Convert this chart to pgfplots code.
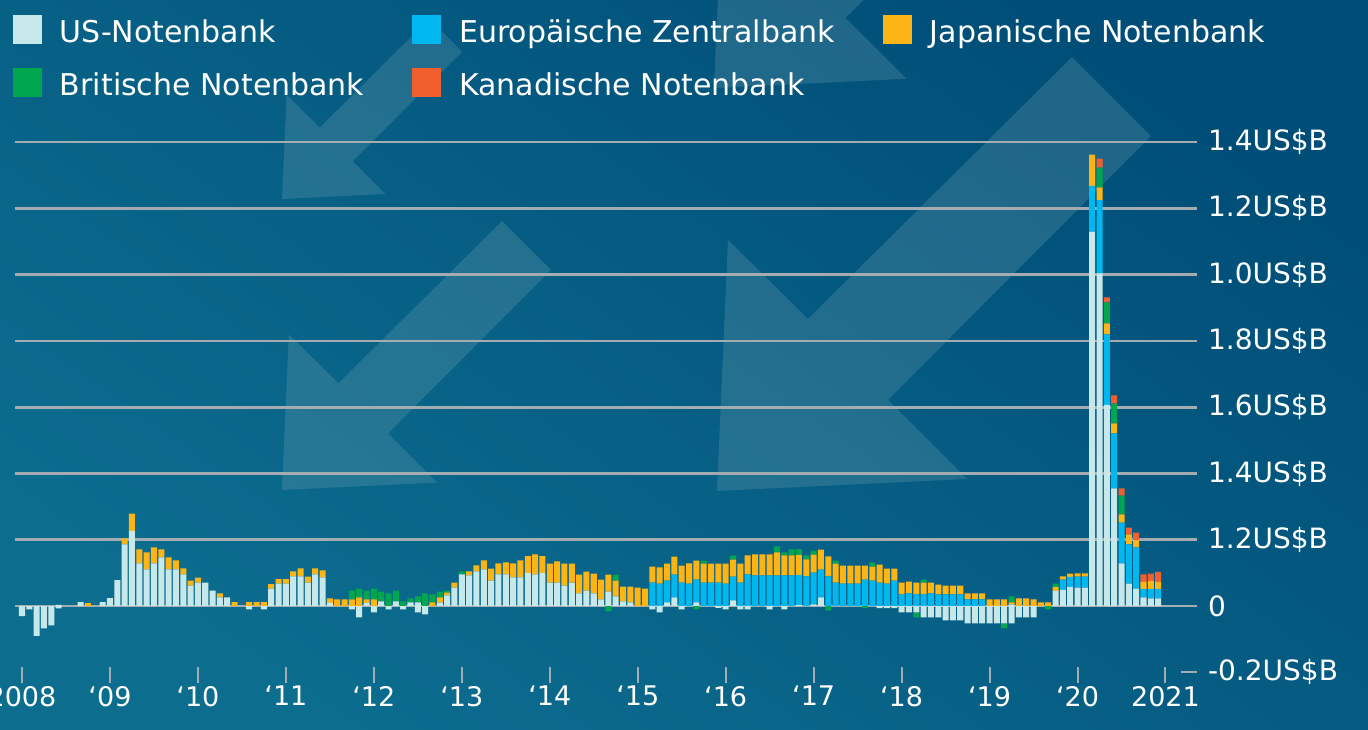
\documentclass[border=0pt]{standalone}
\usepackage{pgfplots}
\pgfplotsset{compat=1.18}
\usepackage{pgfplotstable}
\usepackage{fontspec}
\setmainfont{DejaVu Sans}
\definecolor{usc}{HTML}{C7E8EB}
\definecolor{ecbc}{HTML}{00B7EF}
\definecolor{jpc}{HTML}{FDB415}
\definecolor{boec}{HTML}{00A650}
\definecolor{bocc}{HTML}{F15F2E}
\definecolor{gridc}{HTML}{A3ACB0}
\definecolor{bgtop}{HTML}{004E78}
\definecolor{bgbot}{HTML}{0C6D8F}
\definecolor{arrowc}{HTML}{8CB4BE}

\pgfplotstableread{
m us ecb jp boe boc usn boen
0 0 0 0 0 0 -0.030 0
1 0 0 0 0 0 -0.010 0
2 0 0 0 0 0 -0.090 0
3 0 0 0 0 0 -0.067 0
4 0 0 0 0 0 -0.058 0
5 0.004 0 0 0 0 -0.007 0
6 0 0 0 0 0 0 0
7 0 0 0 0 0 0 0
8 0.012 0 0 0 0 0 0
9 0 0 0.009 0 0 0 0
10 0 0 0 0 0 0 0
11 0.012 0 0 0 0 0 0
12 0.024 0 0 0 0 0 0
13 0.078 0 0 0 0 0 0
14 0.186 0 0.018 0 0 0 0
15 0.227 0 0.052 0 0 0 0
16 0.129 0 0.042 0 0 0 0
17 0.111 0 0.051 0 0 0 0
18 0.129 0 0.048 0 0 0 0
19 0.147 0 0.024 0 0 0 0
20 0.111 0 0.036 0 0 0 0
21 0.111 0 0.027 0 0 0 0
22 0.096 0 0.018 0 0 0 0
23 0.062 0 0.015 0 0 0 0
24 0.071 0 0.015 0 0 0 0
25 0.071 0 0 0 0 0 0
26 0.047 0 0 0 0 0 0
27 0.026 0 0.012 0 0 0 0
28 0.026 0 0 0 0 0 0
29 0 0 0.012 0 0 0 0
30 0 0 0 0 0 0 0
31 0 0 0.012 0 0 -0.010 0
32 0 0 0.012 0 0 0 0
33 0 0 0.012 0 0 -0.010 0
34 0.053 0 0.013 0 0 0 0
35 0.068 0 0.013 0 0 0 0
36 0.068 0 0.013 0 0 0 0
37 0.090 0 0.015 0 0 0 0
38 0.090 0 0.024 0 0 0 0
39 0.071 0 0.018 0 0 0 0
40 0.096 0 0.018 0 0 0 0
41 0.087 0 0.021 0 0 0 0
42 0.010 0 0.013 0 0 0 0
43 0 0 0.020 0 0 0 0
44 0 0 0.020 0 0 0 0
45 0 0 0.020 0.027 0 -0.010 0
46 0 0 0.026 0.027 0 -0.034 0
47 0.010 0 0.010 0.027 0 0 0
48 0 0 0.020 0.033 0 -0.019 0
49 0.014 0 0 0.030 0 0 0
50 0 0 0 0.038 0 -0.010 0
51 0.014 0 0 0.033 0 0 0
52 0 0 0 0.014 0 -0.010 0
53 0.011 0 0 0.012 0 0 0
54 0.011 0 0 0.018 0 -0.019 0
55 0 0 0 0.038 0 -0.025 0
56 0 0 0.011 0.024 0 0 0
57 0.011 0 0.015 0.018 0 0 0
58 0.032 0 0.009 0.006 0 0 0
59 0.056 0 0.015 0 0 0 0
60 0.096 0 0 0.009 0 0 0
61 0.093 0 0.012 0 0 0 0
62 0.105 0 0.018 0 0 0 0
63 0.111 0 0.027 0 0 0 0
64 0.077 0 0.036 0 0 0 0
65 0.096 0 0.033 0 0 0 0
66 0.096 0 0.036 0 0 0 0
67 0.087 0 0.042 0 0 0 0
68 0.087 0 0.051 0 0 0 0
69 0.100 0 0.051 0 0 0 0
70 0.096 0 0.060 0 0 0 0
71 0.100 0 0.051 0 0 0 0
72 0.071 0 0.057 0 0 0 0
73 0.071 0 0.064 0 0 0 0
74 0.062 0 0.066 0 0 0 0
75 0.071 0 0.057 0 0 0 0
76 0.038 0 0.057 0 0 0 0
77 0.047 0 0.057 0 0 0 0
78 0.038 0 0.060 0 0 0 0
79 0.020 0 0.060 0 0 0 0
80 0.044 0 0.051 0 0 0 -0.016
81 0.029 0 0.048 0.018 0 0 0
82 0.014 0 0.045 0 0 0 0
83 0.011 0 0.048 0 0 0 0
84 0 0 0.056 0 0 0 0
85 0 0 0.053 0 0 0 0
86 0 0.071 0.048 0 0 -0.010 0
87 0 0.068 0.049 0 0 -0.019 0
88 0.011 0.066 0.051 0 0 0 0
89 0.026 0.069 0.054 0 0 0 0
90 0 0.071 0.051 0 0 -0.010 0
91 0 0.068 0.061 0 0 0 0
92 0.011 0.069 0.057 0 0 0 -0.010
93 0 0.071 0.057 0.009 0 0 0
94 0 0.071 0.057 0 0 0 0
95 0 0.071 0.057 0 0 -0.005 0
96 0 0.068 0.060 0 0 -0.010 0
97 0.017 0.072 0.051 0.012 0 0 0
98 0 0.071 0.057 0 0 -0.010 0
99 0 0.096 0.057 0 0 -0.010 0
100 0 0.093 0.063 0 0 0 0
101 0 0.093 0.063 0 0 0 0
102 0 0.093 0.063 0 0 -0.010 0
103 0 0.093 0.069 0.018 0 0 0
104 0 0.093 0.060 0.009 0 -0.010 0
105 0 0.093 0.060 0.018 0 0 0
106 0.004 0.090 0.060 0.018 0 0 0
107 0 0.090 0.051 0.012 0 0 0
108 0.005 0.096 0.054 0.012 0 0 0
109 0.026 0.084 0.060 0 0 0 0
110 0 0.090 0.060 0 0 0 -0.014
111 0 0.071 0.057 0.009 0 0 0
112 0 0.068 0.054 0 0 0 0
113 0 0.068 0.054 0 0 0 0
114 0 0.068 0.054 0 0 0 0
115 0 0.080 0.042 0 0 0 -0.006
116 0 0.077 0.042 0.012 0 0 0
117 0 0.071 0.054 0 0 -0.006 0
118 0 0.068 0.045 0 0 -0.006 0
119 0 0.077 0.036 0 0 -0.006 0
120 0 0.035 0.036 0 0 -0.019 0
121 0 0.038 0.036 0 0 -0.019 0
122 0 0.035 0.036 0 0 -0.019 -0.015
123 0 0.035 0.036 0.009 0 -0.034 0
124 0 0.038 0.033 0 0 -0.034 0
125 0 0.035 0.030 0 0 -0.034 0
126 0 0.035 0.027 0 0 -0.043 0
127 0 0.035 0.027 0 0 -0.043 0
128 0 0.035 0.027 0 0 -0.043 0
129 0 0.020 0.018 0 0 -0.052 0
130 0 0.020 0.018 0 0 -0.052 0
131 0 0.020 0.018 0 0 -0.052 0
132 0 0 0.020 0 0 -0.052 0
133 0 0 0.020 0 0 -0.052 0
134 0 0 0.020 0 0 -0.052 -0.015
135 0.005 0 0.006 0.018 0 -0.052 0
136 0 0 0.023 0 0 -0.034 0
137 0 0 0.023 0 0 -0.034 0
138 0 0 0.020 0 0 -0.034 0
139 0 0 0.011 0 0 0 0
140 0 0 0.011 0 0 0 -0.010
141 0.046 0 0.012 0.010 0 0 0
142 0.049 0.031 0.010 0 0 0 0
143 0.058 0.030 0.010 0 0 0 0
144 0.056 0.033 0.010 0 0 0 0
145 0.056 0.033 0.010 0 0 0 0
146 1.130 0.138 0.094 0 0 0 0
147 1.004 0.221 0.038 0.060 0.027 0 0
148 0.607 0.213 0.033 0.063 0.015 0 0
149 0.355 0.166 0.030 0.060 0.025 0 0
150 0.129 0.123 0.025 0.056 0.022 0 0
151 0.068 0.118 0.030 0 0.021 0 0
152 0.053 0.124 0.022 0 0.023 0 0
153 0.026 0.026 0.021 0 0.023 0 0
154 0.023 0.029 0.024 0 0.022 0 0
155 0.023 0.029 0.021 0 0.030 0 0
}\datatable

\pgfplotsset{
  common/.style={
    scale only axis, width=591bp, height=273.8bp,
    at={(7.5bp,23.5bp)}, anchor=south west,
    xmin=-0.955, xmax=160.30, ymin=-0.232, ymax=1.42,
    ybar stacked, bar width=0.82,
  },
  sqlegend/.style={legend image code/.code={\fill[##1] (0bp,-5.5bp) rectangle (14.5bp,9bp);}},
}

\begin{document}
\begin{tikzpicture}
\shade[top color=bgtop, bottom color=bgbot, shading angle=-35] (0,0) rectangle (684bp,365bp);
\path[use as bounding box, clip] (0,0) rectangle (684bp,365bp);
\begin{scope}[x=0.5bp, y=-0.5bp, yshift=365bp]
  \foreach \tx/\ty/\s in {282/199/0.415, 714/88/0.77, 282/490/0.62, 717/491/1.0} {
    \fill[arrowc, opacity=0.22, shift={(\tx,\ty)}, scale=\s] (0,0) -- (11,-251) -- (91,-172) -- (355,-434) -- (434,-355) -- (171,-91) -- (250,-12) -- cycle;
  }
\end{scope}

\begin{axis}[common,
  axis x line*=bottom, axis y line*=right, axis line style={draw=none},
  tick align=inside, major tick length=8bp,
  tick style={draw=gridc, line width=1bp},
  xtick={0,12,24,36,48,60,72,84,96,108,120,132,144,156},
  xticklabels={2008,‘09,‘10,‘11,‘12,‘13,‘14,‘15,‘16,‘17,‘18,‘19,‘20,2021},
  ytick={0,0.2,0.4,0.6,0.8,1.0,1.2,1.4},
  yticklabels={0,1.2US\$B,1.4US\$B,1.6US\$B,1.8US\$B,1.0US\$B,1.2US\$B,1.4US\$B},
  extra y ticks={-0.2}, extra y tick labels={-0.2US\$B}, extra y tick style={grid=none},
  ymajorgrids, grid style={draw=gridc, line width=1.3bp},
  xticklabel style={font=\fontsize{13.5bp}{16bp}\selectfont, text=white, yshift=2bp},
  yticklabel style={font=\fontsize{14bp}{17bp}\selectfont, text=white, anchor=west, xshift=2bp},
  legend columns=3, legend cell align=left,
  legend style={at={(axis description cs:-0.0017,1.2199)}, anchor=north west,
    draw=none, fill=none, inner sep=0pt, outer sep=0pt, row sep=11bp,
    font=\fontsize{15bp}{18bp}\selectfont, text=white,
    nodes={inner sep=0pt, text=white},
    /tikz/every odd column/.append style={column sep=9bp},
    /tikz/every even column/.append style={column sep=24bp}},
]
\addplot[fill=usc, draw=none, sqlegend] table[x=m,y=us]{\datatable};
\addlegendentry{US-Notenbank}
\addplot[fill=ecbc, draw=none, sqlegend] table[x=m,y=ecb]{\datatable};
\addlegendentry{Europäische Zentralbank}
\addplot[fill=jpc, draw=none, sqlegend] table[x=m,y=jp]{\datatable};
\addlegendentry{Japanische Notenbank}
\addplot[fill=boec, draw=none, sqlegend] table[x=m,y=boe]{\datatable};
\addlegendentry{Britische Notenbank}
\addplot[fill=bocc, draw=none, sqlegend] table[x=m,y=boc]{\datatable};
\addlegendentry{Kanadische Notenbank}
\end{axis}

\begin{axis}[common, hide axis]
\addplot[fill=usc, draw=none] table[x=m,y=usn]{\datatable};
\addplot[fill=boec, draw=none] table[x=m,y=boen]{\datatable};
\end{axis}
\end{tikzpicture}
\end{document}
